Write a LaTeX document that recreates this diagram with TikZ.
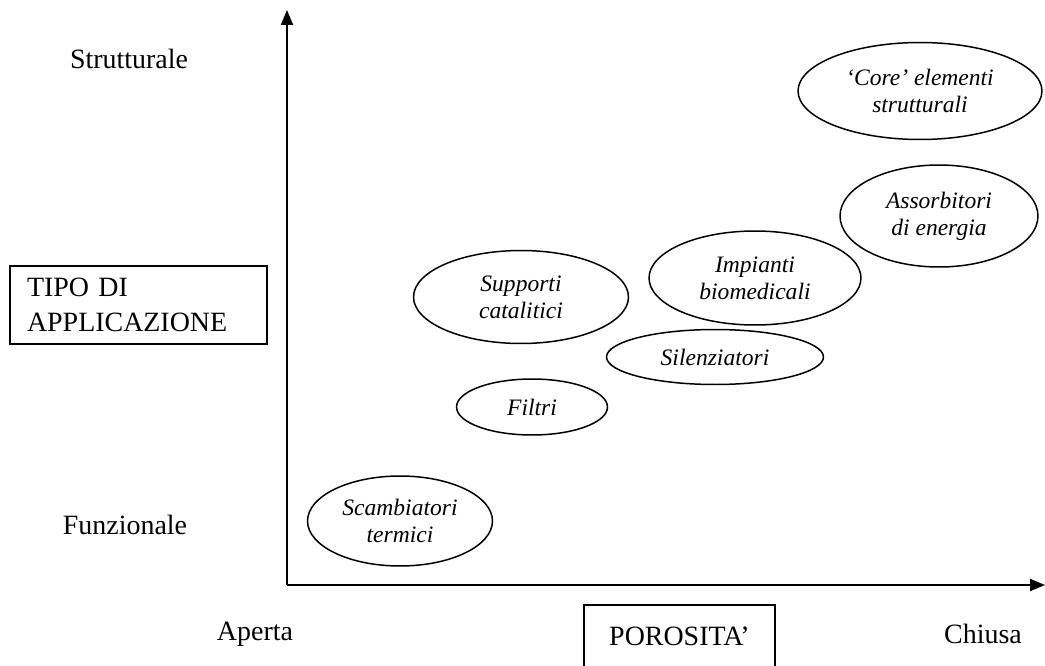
\documentclass[tikz,border=0pt]{standalone}
\usepackage{fontspec}
\setmainfont{Liberation Serif}
\usepackage{tikz}
\usetikzlibrary{arrows.meta,shapes.geometric}

\begin{document}
\begin{tikzpicture}[x=0.02cm, y=-0.02cm,
      axis/.style={-{Triangle[length=0.3cm, width=0.24cm]}, line width=1.1pt, black},
      appl/.style={ellipse, draw, line width=0.85pt, inner sep=0pt, align=center, font=\fontsize{13.4}{15.4}\selectfont\itshape},
      label/.style={font=\fontsize{15.9}{19.9}\selectfont},
      titlebox/.style={rectangle, draw, line width=0.85pt, font=\fontsize{15.9}{19.9}\selectfont}
    ]
      \useasboundingbox (0,0) rectangle (1045,666);

      % Axes
      \coordinate (origin) at (287,585);
      \coordinate (ytop) at (287,10);
      \coordinate (xend) at (1045,585);
      \draw[axis] (origin) -- (ytop);
      \draw[axis] (origin) -- (xend);

      % Axis labels
      \node[label] (strut) at (129,59) {Strutturale};
      \node[label] (funz) at (125,525) {Funzionale};
      \node[label] (aperta) at (255,634) {Aperta};
      \node[label] (chiusa) at (983,634) {Chiusa};
      \node[titlebox, text width=4.46cm, inner xsep=0.34cm, align=left, minimum height=1.56cm] (tipo) at (138.5,305) {TIPO DI\\APPLICAZIONE};
      \node[titlebox, minimum width=3.82cm, minimum height=1.24cm] (poros) at (679.5,636) {POROSITA’};

      % Applications
      \node[appl, minimum width=4.88cm, minimum height=1.94cm] (core) at (920,91) {‘Core’ elementi\\strutturali};
      \node[appl, minimum width=3.96cm, minimum height=2.04cm] (assorb) at (939,216) {Assorbitori\\di energia};
      \node[appl, minimum width=4.24cm, minimum height=1.88cm] (impianti) at (755,278) {Impianti\\biomedicali};
      \node[appl, minimum width=4.3cm, minimum height=1.86cm] (supporti) at (521,297) {Supporti\\catalitici};
      \node[appl, minimum width=4.34cm, minimum height=1.1cm] (silenz) at (715,357) {Silenziatori};
      \node[appl, minimum width=3.02cm, minimum height=1.12cm] (filtri) at (532,407) {Filtri};
      \node[appl, minimum width=3.7cm, minimum height=1.8cm] (scamb) at (400,521) {Scambiatori\\termici};
    \end{tikzpicture}
\end{document}
